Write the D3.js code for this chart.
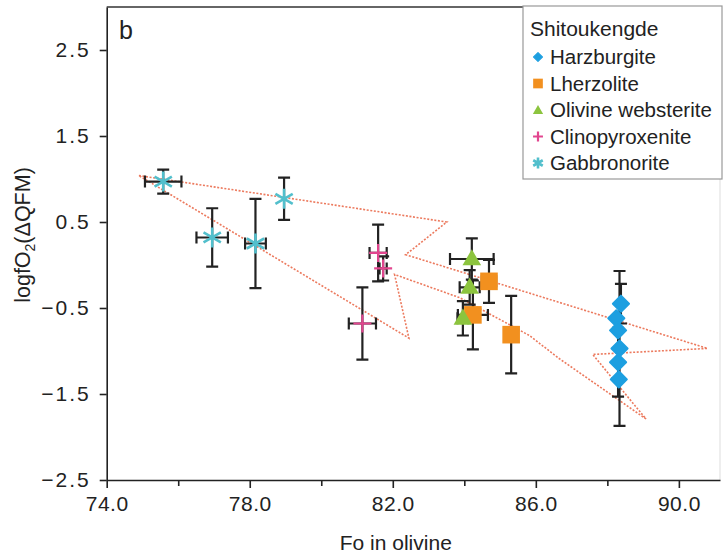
<!DOCTYPE html>
<head>
  <meta charset="utf-8">
  <title>logfO2 vs Fo in olivine</title>
  <style>
    body { margin: 0; background: #fff; }
    text { font-family: "Liberation Sans", Arial, sans-serif; fill: #222; }
  </style>
</head>
<body>
<svg width="724" height="553"></svg>

<script src="https://d3js.org/d3.v7.min.js"></script>
<script>

  // series: [Fo, logfO2, xErr, yErr]
  const harzburgite = [
    [88.38, -0.45, 0, 0.23],
    [88.25, -0.62, 0, 0],
    [88.30, -0.76, 0, 0],
    [88.34, -0.97, 0, 0.9],
    [88.30, -1.13, 0, 0.4],
    [88.32, -1.33, 0, 0]
  ];
  const lherzolite = [
    [84.69, -0.19, 0.2, 0.25],
    [84.24, -0.58, 0.42, 0.40],
    [85.31, -0.81, 0, 0.45]
  ];
  const olivineWebsterite = [
    [84.21, 0.07, 0.61, 0.24],
    [84.15, -0.26, 0.28, 0.2],
    [83.96, -0.62, 0.15, 0.2]
  ];
  const clinopyroxenite = [
    [81.59, 0.14, 0.24, 0.33],
    [81.73, -0.04, 0.10, 0.14],
    [81.15, -0.68, 0.38, 0.42]
  ];
  const gabbronorite = [
    [75.58, 0.97, 0.51, 0.14],
    [76.95, 0.32, 0.44, 0.34],
    [78.16, 0.25, 0.29, 0.52],
    [78.96, 0.77, 0, 0.245]
  ];

  // dotted outline field
  const field = [
    [74.90, 1.04], [83.51, 0.50], [82.36, 0.12], [90.80, -0.97],
    [87.59, -1.04], [89.08, -1.79], [86.66, -1.09], [85.82, -0.82],
    [83.87, -0.38], [82.05, -0.11], [82.45, -0.85], [74.90, 1.04]
  ];

  const xTicks = [74, 76, 78, 80, 82, 84, 86, 88, 90];
  const xLabelled = [74, 78, 82, 86, 90];
  const yTicks = [-2.5, -1.5, -0.5, 0.5, 1.5, 2.5];

  const legendNames = ["Harzburgite", "Lherzolite", "Olivine websterite", "Clinopyroxenite", "Gabbronorite"];

  let svg = d3.select("svg");
  const pLeft = 106.7, pRight = 720, pTop = 7, pBottom = 480;

  const x = d3.scaleLinear().domain([74, 91.15]).range([pLeft, pRight]);
  const y = d3.scaleLinear().domain([-2.5, 3.0]).range([pBottom, pTop]);

  // frame
  svg.append("line").attr("x1", pLeft).attr("x2", pRight).attr("y1", pTop).attr("y2", pTop)
    .attr("stroke", "#333").attr("stroke-width", 1.5);
  svg.append("line").attr("x1", pRight).attr("x2", pRight).attr("y1", pTop).attr("y2", pBottom)
    .attr("stroke", "#ddd").attr("stroke-width", 1);

  // axes
  const xAxis = svg.append("g").attr("transform", `translate(0,${pBottom})`)
    .call(d3.axisBottom(x).tickValues(xTicks).tickSize(8).tickSizeOuter(0)
      .tickFormat(d => xLabelled.includes(d) ? d3.format(".1f")(d) : ""));
  const yAxis = svg.append("g").attr("transform", `translate(${pLeft},0)`)
    .call(d3.axisLeft(y).tickValues(yTicks).tickSize(7).tickSizeOuter(0).tickFormat(d3.format(".1f")));

  [xAxis, yAxis].forEach(a => {
    a.select(".domain").attr("stroke", "#222").attr("stroke-width", 1.6);
    a.selectAll(".tick line").attr("stroke", "#222").attr("stroke-width", 1.6);
    a.selectAll(".tick text").attr("font-size", 21).attr("fill", "#222")
      .style("font-family", "'Liberation Sans', Arial, sans-serif");
  });
  xAxis.selectAll(".tick text").attr("dy", "0.95em").style("letter-spacing", "0.5px");
  yAxis.selectAll(".tick text").attr("x", -16).style("letter-spacing", "2px");
  xAxis.selectAll(".tick").filter(d => !xLabelled.includes(d)).select("line").attr("y2", 6);

  // axis titles
  svg.append("text").attr("x", (x(74) + x(90)) / 2 + 3).attr("y", 550)
    .attr("text-anchor", "middle").attr("font-size", 21).text("Fo in olivine");
  const yl = svg.append("text").attr("transform", "translate(30,235) rotate(-90)")
    .attr("text-anchor", "middle").attr("font-size", 21.5);
  yl.append("tspan").text("logfO");
  yl.append("tspan").attr("font-size", 14).attr("dy", 5).text("2");
  yl.append("tspan").attr("dy", -5).text("(ΔQFM)");

  svg.append("text").attr("x", 119).attr("y", 39).attr("font-size", 25).text("b");

  // field outline
  svg.append("path")
    .attr("d", d3.line().x(d => x(d[0])).y(d => y(d[1]))(field))
    .attr("fill", "none").attr("stroke", "#ec7a5e").attr("stroke-width", 1.6)
    .attr("stroke-dasharray", "2,1.6");

  // marker drawing
  const colors = ["#1d9fe0", "#f2901f", "#8cc43e", "#e2468f", "#52bfcc"];
  const sets = [harzburgite, lherzolite, olivineWebsterite, clinopyroxenite, gabbronorite];

  function marker(g, i, scale) {
    const c = colors[i];
    if (i === 0) {
      g.append("path").attr("d", d3.symbol(d3.symbolSquare, 130 * scale * scale)())
        .attr("transform", "rotate(45)").attr("fill", c)
        .attr("stroke", c).attr("stroke-width", 2 * scale).attr("stroke-linejoin", "round");
    } else if (i === 1) {
      g.append("path").attr("d", d3.symbol(d3.symbolSquare, 310 * scale * scale)()).attr("fill", c);
    } else if (i === 2) {
      g.append("path").attr("d", d3.symbol(d3.symbolTriangle, 150 * scale * scale)())
        .attr("transform", "translate(0,1)").attr("fill", c);
    } else if (i === 3) {
      const r = 9 * scale;
      g.append("path").attr("d", `M${-r},0H${r}M0,${-r}V${r}`)
        .attr("stroke", c).attr("stroke-width", 2.2).attr("fill", "none");
    } else {
      const r = 10 * scale;
      let d = "";
      [90, 30, 150].forEach(a => {
        const t = a * Math.PI / 180;
        d += `M${-r * Math.cos(t)},${-r * Math.sin(t)}L${r * Math.cos(t)},${r * Math.sin(t)}`;
      });
      g.append("path").attr("d", d).attr("stroke", c).attr("stroke-width", 2.6).attr("fill", "none");
    }
  }

  // error bars
  const cap = 6;
  const bars = svg.append("g").attr("stroke", "#222").attr("stroke-width", 2.2).attr("fill", "none");
  sets.forEach(s => s.forEach(d => {
    const cx = x(d[0]), cy = y(d[1]);
    let p = "";
    if (d[2] > 0) {
      const x0 = x(d[0] - d[2]), x1 = x(d[0] + d[2]);
      p += `M${x0},${cy}H${x1}M${x0},${cy - cap}V${cy + cap}M${x1},${cy - cap}V${cy + cap}`;
    }
    if (d[3] > 0) {
      const y0 = y(d[1] + d[3]), y1 = y(d[1] - d[3]);
      p += `M${cx},${y0}V${y1}M${cx - cap},${y0}H${cx + cap}M${cx - cap},${y1}H${cx + cap}`;
    }
    if (p) bars.append("path").attr("d", p);
  }));

  // points
  sets.forEach((s, i) => s.forEach(d => {
    const g = svg.append("g").attr("transform", `translate(${x(d[0])},${y(d[1])})`);
    marker(g, i, 1);
  }));

  // legend
  const lg = svg.append("g");
  lg.append("rect").attr("x", 523).attr("y", 6).attr("width", 199).attr("height", 173)
    .attr("fill", "#fff").attr("stroke", "#999").attr("stroke-width", 1.2);
  lg.append("text").attr("x", 530).attr("y", 36).attr("font-size", 21).text("Shitoukengde");
  legendNames.forEach((n, i) => {
    const cy = 57 + i * 26.5;
    const g = lg.append("g").attr("transform", `translate(538,${cy})`);
    marker(g, i, 0.55);
    lg.append("text").attr("x", 550).attr("y", cy).attr("dy", "0.36em")
      .attr("font-size", 20.5).text(n);
  });

</script>
</body>
